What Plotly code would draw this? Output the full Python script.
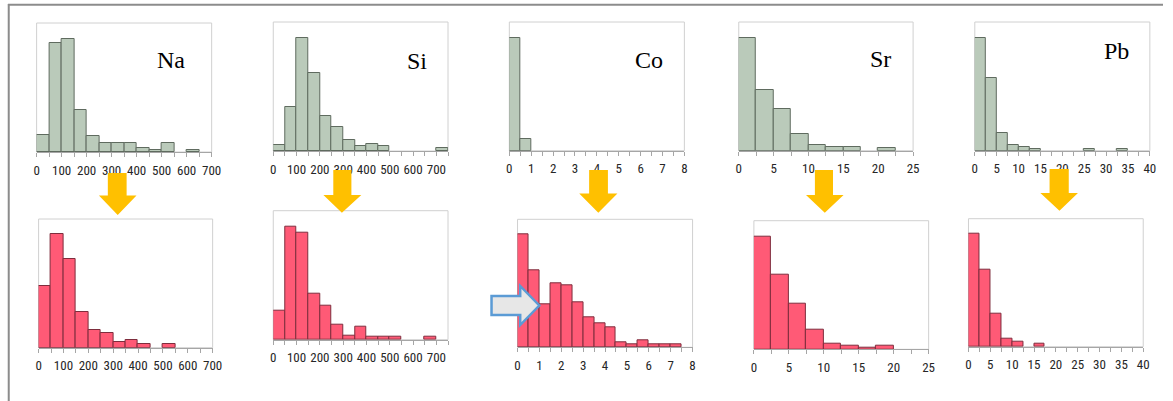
import plotly.graph_objects as go

W, H = 1173, 401

# ---- data (bar heights, relative frequency units) ----
elements = ["Na", "Si", "Co", "Sr", "Pb"]
bin_widths = [50, 50, 0.5, 2.5, 2.5]
x_max = [700, 750, 8, 25, 40]
tick_labels = [
    [0, 100, 200, 300, 400, 500, 600, 700],
    [0, 100, 200, 300, 400, 500, 600, 700],
    [0, 1, 2, 3, 4, 5, 6, 7, 8],
    [0, 5, 10, 15, 20, 25],
    [0, 5, 10, 15, 20, 25, 30, 35, 40],
]
na_before = [50, 327, 339, 127, 47, 26, 26, 26, 13, 6, 26, 0, 6, 0]
na_after = [184, 340, 265, 107, 53, 43, 16, 22, 12, 0, 12, 0, 0, 0]
si_before = [17, 132, 340, 233, 105, 71, 34, 15, 21, 15, 0, 0, 0, 0, 8]
si_after = [88, 340, 320, 138, 101, 44, 13, 40, 10, 10, 10, 0, 0, 10, 0]
co_before = [339, 36, 0, 0, 0, 0, 0, 0, 0, 0, 0, 0, 0, 0, 0, 0]
co_after = [338, 231, 129, 193, 186, 136, 89, 72, 59, 15, 8, 21, 8, 8, 8, 0]
sr_before = [339, 182, 125, 50, 16, 10, 10, 0, 7, 0]
sr_after = [339, 225, 138, 60, 17, 10, 6, 10, 0, 0]
pb_before = [339, 218, 54, 16, 10, 6, 0, 0, 0, 0, 6, 0, 0, 6, 0, 0]
pb_after = [339, 230, 99, 25, 15, 0, 8, 0, 0, 0, 0, 0, 0, 0, 0, 0]
before = [na_before, si_before, co_before, sr_before, pb_before]
after = [na_after, si_after, co_after, sr_after, pb_after]

# ---- layout geometry (pixels) ----
top_boxes = [(34, 211, 23, 152), (273.3, 450, 22, 151), (512, 689, 22, 150.7),
             (744, 920.3, 22, 150.7), (982.7, 1159.7, 22, 150.7)]
bot_boxes = [(36, 212, 219, 347.7), (273.3, 450, 210.7, 339.7), (520.3, 697.3, 219.3, 347.3),
             (759.3, 936, 220.7, 349.3), (976.3, 1153, 218.7, 346.7)]
top_ymax = [387, 387, 386, 386, 386]
bot_ymax = [386, 387, 384, 386, 384]
label_pos = [(170, 60), (419, 61), (653, 60), (887, 59), (1126, 51)]
yellow_arrows = [  # shaft x0,x1, shaft top, head y, head x0,x1, tip x, tip y
    (106, 125, 173, 195.5, 97, 135, 116, 215),
    (334, 352.3, 170, 195, 324, 362.3, 342.7, 212.7),
    (592.7, 611.7, 170, 193.5, 582.7, 621.3, 602, 212.7),
    (821, 839.3, 170, 195, 812, 850, 831, 212.7),
    (1058.3, 1077.7, 169, 193, 1049, 1087, 1068.3, 210.7),
]

GREEN, GREEN_LINE = "#BACABA", "#5F6B5F"
RED, RED_LINE = "#FF5A76", "#7E2D3D"


def px(x):
    return x / W


def py(y):
    return 1 - y / H


fig = go.Figure()
shapes = []
annotations = []

axis_font = dict(family="Roboto Condensed, sans-serif", size=13, color="#262626")

idx = 0
for row, (boxes, series, ymaxes, fill, line) in enumerate(
        [(top_boxes, before, top_ymax, GREEN, GREEN_LINE),
         (bot_boxes, after, bot_ymax, RED, RED_LINE)]):
    for k in range(5):
        idx += 1
        sfx = "" if idx == 1 else str(idx)
        x0, x1, y0, y1 = boxes[k]
        bw = bin_widths[k]
        vals = series[k]
        centers = [bw * (i + 0.5) for i in range(len(vals))]
        fig.add_trace(go.Bar(
            x=centers, y=[v if v > 0 else None for v in vals], width=bw,
            marker=dict(color=fill, line=dict(color=line, width=1)),
            xaxis="x" + sfx, yaxis="y" + sfx, showlegend=False, hoverinfo="skip"))
        n_edges = int(round(x_max[k] / bw)) + 1
        edges = [bw * i for i in range(n_edges)]
        labs = set(tick_labels[k])
        ticktext = [str(int(e)) if (abs(e - round(e)) < 1e-9 and int(round(e)) in labs) else "" for e in edges]
        fig.layout["xaxis" + sfx] = dict(
            domain=[px(x0), px(x1)], anchor="y" + sfx, range=[0, x_max[k]],
            tickmode="array", tickvals=edges, ticktext=ticktext,
            ticks="outside", ticklen=4, tickcolor="#A6A6A6", tickwidth=1,
            ticklabelstandoff=2,
            showline=True, linecolor="#A6A6A6", linewidth=1,
            showgrid=False, zeroline=False, tickfont=axis_font, fixedrange=True)
        fig.layout["yaxis" + sfx] = dict(
            domain=[py(y1), py(y0)], anchor="x" + sfx, range=[0, ymaxes[k]],
            visible=False, showgrid=False, zeroline=False, fixedrange=True)
        shapes.append(dict(type="rect", xref="x" + sfx + " domain", yref="y" + sfx + " domain",
                           x0=0, x1=1, y0=0, y1=1, line=dict(color="#D0D0D0", width=1),
                           layer="below"))

# element labels
for name, (lx, ly) in zip(elements, label_pos):
    annotations.append(dict(x=px(lx), y=py(ly), xref="paper", yref="paper", text=name,
                            showarrow=False, xanchor="center", yanchor="middle",
                            font=dict(family="Liberation Serif, Times New Roman, serif", size=24,
                                      color="#000000")))

# yellow down arrows
for (sx0, sx1, st, hy, hx0, hx1, tx, ty) in yellow_arrows:
    path = (f"M {px(sx0)},{py(st)} L {px(sx1)},{py(st)} L {px(sx1)},{py(hy)} "
            f"L {px(hx1)},{py(hy)} L {px(tx)},{py(ty)} L {px(hx0)},{py(hy)} "
            f"L {px(sx0)},{py(hy)} Z")
    shapes.append(dict(type="path", xref="paper", yref="paper", path=path,
                       fillcolor="#FFC000", line=dict(width=0)))

# grey right arrow (Co panel)
gx = [494, 523, 542.3]
gy = [286, 296, 305.5, 315, 325]
path = (f"M {px(gx[0])},{py(gy[1])} L {px(gx[1])},{py(gy[1])} L {px(gx[1])},{py(gy[0])} "
        f"L {px(gx[2])},{py(gy[2])} L {px(gx[1])},{py(gy[4])} L {px(gx[1])},{py(gy[3])} "
        f"L {px(gx[0])},{py(gy[3])} Z")
shapes.append(dict(type="path", xref="paper", yref="paper", path=path,
                   fillcolor="#E7E7E7", line=dict(color="#5B9BD5", width=2.5)))

# outer frame (top and left lines)
shapes.append(dict(type="line", xref="paper", yref="paper", x0=px(5), x1=1, y0=py(4.8), y1=py(4.8),
                   line=dict(color="#8C8C8C", width=2)))
shapes.append(dict(type="line", xref="paper", yref="paper", x0=px(5.8), x1=px(5.8), y0=py(4), y1=0,
                   line=dict(color="#8C8C8C", width=2)))

fig.update_layout(
    width=W, height=H, margin=dict(l=0, r=0, t=0, b=0),
    paper_bgcolor="white", plot_bgcolor="white",
    shapes=shapes, annotations=annotations, bargap=0,
)

fig.write_html("out.html")
